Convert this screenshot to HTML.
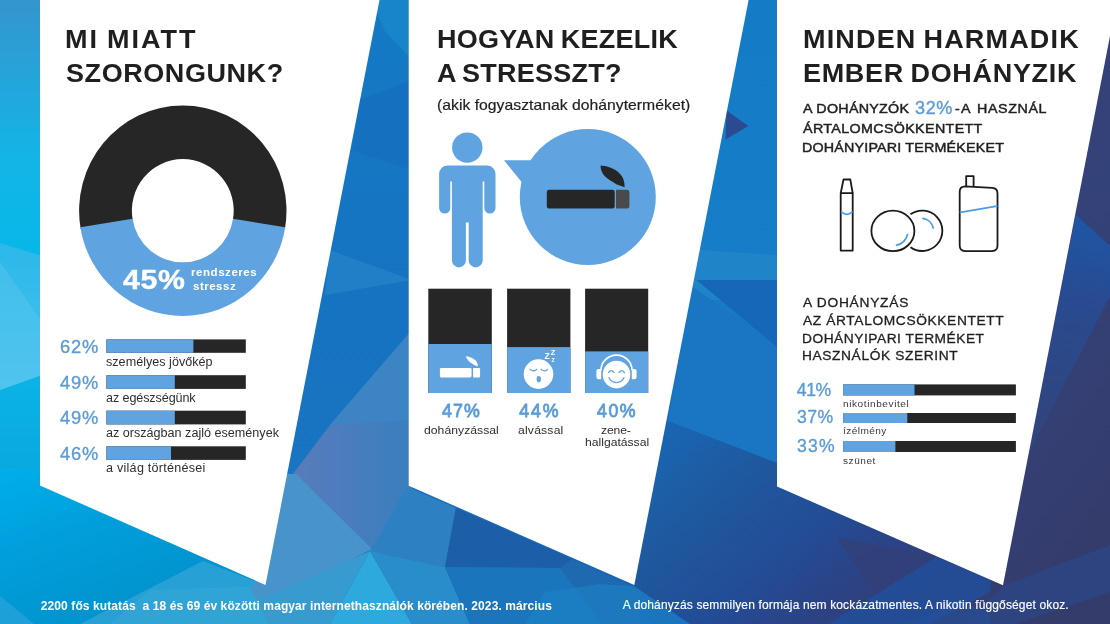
<!DOCTYPE html>
<html lang="hu"><head><meta charset="utf-8"><title>Infografika</title>
<style>
html,body{margin:0;padding:0;}
body{width:1110px;height:624px;overflow:hidden;position:relative;background:#1d6fc9;font-family:"Liberation Sans", Arial, sans-serif;}
#stage{position:absolute;left:0;top:0;width:1110px;height:624px;overflow:hidden;}
svg{position:absolute;left:0;top:0;display:block;}
.t{position:absolute;white-space:pre;line-height:1;transform-origin:0 0;font-family:"Liberation Sans", Arial, sans-serif;font-weight:400;}
</style></head><body><div id="stage">
<svg width="1110" height="624" viewBox="0 0 1110 624">
<defs>
<linearGradient id="base" x1="0" y1="0" x2="1" y2="0">
<stop offset="0" stop-color="#0ca3da"/>
<stop offset="0.20" stop-color="#2198d0"/>
<stop offset="0.30" stop-color="#1877c2"/>
<stop offset="0.45" stop-color="#1b69b5"/>
<stop offset="0.60" stop-color="#1863b5"/>
<stop offset="0.70" stop-color="#1f509d"/>
<stop offset="0.80" stop-color="#2f4381"/>
<stop offset="1" stop-color="#363e72"/>
</linearGradient>
<linearGradient id="gL" gradientUnits="userSpaceOnUse" x1="0" y1="0" x2="0" y2="624">
<stop offset="0" stop-color="#3595ce"/>
<stop offset="0.256" stop-color="#13b5e6"/>
<stop offset="0.39" stop-color="#08b7e8"/>
<stop offset="0.615" stop-color="#0bb2e6"/>
<stop offset="0.755" stop-color="#08a9de"/>
<stop offset="1" stop-color="#0c90c8"/>
</linearGradient>
<linearGradient id="gB1" gradientUnits="userSpaceOnUse" x1="0" y1="470" x2="60" y2="624">
<stop offset="0" stop-color="#00afe8"/>
<stop offset="0.5" stop-color="#009fdc"/>
<stop offset="1" stop-color="#0294cf"/>
</linearGradient>
<linearGradient id="gG1" x1="0" y1="0" x2="0" y2="1">
<stop offset="0" stop-color="#137ac4"/>
<stop offset="0.5" stop-color="#1673c1"/>
<stop offset="1" stop-color="#1b75c1"/>
</linearGradient>
<linearGradient id="gG2" gradientUnits="userSpaceOnUse" x1="0" y1="0" x2="0" y2="480">
<stop offset="0" stop-color="#147cc6"/>
<stop offset="0.6" stop-color="#167dc8"/>
<stop offset="0.85" stop-color="#196fbe"/>
<stop offset="1" stop-color="#1a65b0"/>
</linearGradient>
<linearGradient id="gR" x1="0" y1="0" x2="0.25" y2="1">
<stop offset="0" stop-color="#374176"/>
<stop offset="0.5" stop-color="#34427a"/>
<stop offset="1" stop-color="#343c6c"/>
</linearGradient>
<linearGradient id="gP" x1="0" y1="0" x2="1" y2="0">
<stop offset="0" stop-color="#5a7bbb"/>
<stop offset="1" stop-color="#387fbe"/>
</linearGradient>
<linearGradient id="gN" gradientUnits="userSpaceOnUse" x1="665" y1="440" x2="850" y2="660">
<stop offset="0" stop-color="#1a65b0"/>
<stop offset="0.3" stop-color="#1f579d"/>
<stop offset="0.55" stop-color="#224d97"/>
<stop offset="0.8" stop-color="#2c4285"/>
<stop offset="1" stop-color="#353e72"/>
</linearGradient>
<linearGradient id="gBand" gradientUnits="userSpaceOnUse" x1="1076" y1="215" x2="1050" y2="440">
<stop offset="0" stop-color="#1d57a6"/>
<stop offset="0.35" stop-color="#284b91"/>
<stop offset="1" stop-color="#32447c"/>
</linearGradient>
<linearGradient id="gLB" gradientUnits="userSpaceOnUse" x1="0" y1="245" x2="0" y2="390">
<stop offset="0" stop-color="#2cb8ea"/>
<stop offset="1" stop-color="#48c1ec"/>
</linearGradient>
</defs>
<rect width="1110" height="624" fill="url(#base)"/>
<polygon points="0,0 60,0 60,470 0,470" fill="url(#gL)"/>
<polygon points="0,243 42,256 42,375 0,390" fill="url(#gLB)"/>
<polygon points="0,262 42,322 42,375 0,390" fill="#5cc8f0" opacity="0.4"/>
<polygon points="0,468 40,468 300,560 300,624 0,624" fill="url(#gB1)"/>
<polygon points="0,596 34,624 0,624" fill="#24a3d8" opacity="0.8"/>
<polygon points="203,561 268,586 285,624 80,624" fill="#27a0d6"/>
<polygon points="150,590 268,586 285,624 110,624" fill="#46add7" opacity="0.35"/>
<polygon points="264,0 412,0 412,500 264,588" fill="url(#gG1)"/>
<polygon points="372,0 412,0 412,60 384,30" fill="#1885ca"/>
<polygon points="360,100 412,80 412,170 352,150" fill="#1569bb" opacity="0.5"/>
<polygon points="330,250 412,280 325,295" fill="#2887ca" opacity="0.6"/>
<polygon points="412,330 412,490 380,560 297,472" fill="#3885c6"/>
<polygon points="290,478 330,425 412,330 412,487 370,551" fill="url(#gP)"/>
<polygon points="330,425 412,330 412,420" fill="#3d84c4"/>
<polygon points="283,474 296,474 372,549 262,605 250,590 268,560" fill="#4893ca"/>
<polygon points="258,600 370,551 330,624 268,624" fill="#379bcf"/>
<polygon points="370,551 412,624 330,624" fill="#2da9dd"/>
<polygon points="370,551 408,487 456,508 445,567" fill="#2d80c2"/>
<polygon points="370,551 445,567 470,624 412,624" fill="#288dca"/>
<polygon points="456,508 640,590 640,624 470,624 445,567" fill="#1e69b0"/>
<polygon points="456,508 572,559 560,568 445,567" fill="#1d5ea9"/>
<polygon points="445,567 560,568 602,624 470,624" fill="#1b75bd"/>
<polygon points="545,592 600,584 634,586 690,624 525,624" fill="#1e85c6" opacity="0.55"/>
<polygon points="630,0 780,0 780,480 630,480" fill="url(#gG2)"/>
<polygon points="726.5,110.6 748.2,126 725.6,139.4" fill="#2b4a8f"/>
<polygon points="700,250 777,255 777,300 690,300" fill="#2889c8" opacity="0.6"/>
<polygon points="696.5,280 777,280 777,347" fill="#1667b7"/>
<polygon points="693,287 777,347 777,463 668,421" fill="#1a75c2"/>
<polygon points="636,421 668,421 777,463 777,487 1003,586 1110,540 1110,624 690,624 634,586" fill="url(#gN)"/>
<polygon points="836.7,537 936.4,557.3 873.6,592.4" fill="#334078" opacity="0.8"/>
<polygon points="936,557 1003,585 929,624 829,624" fill="#1f509d" opacity="0.8"/>
<polygon points="905,624 960,600 1010,624" fill="#23519d" opacity="0.6"/>
<polygon points="1000,0 1110,0 1110,624 990,624" fill="url(#gR)"/>
<polygon points="1076,215 1110,246 1110,296 1046,420 1028,456" fill="url(#gBand)"/>
<polygon points="1003,586 1110,545 1110,592 1015,624 965,624" fill="#284a91" opacity="0.55"/>
<polygon points="40,0 379.5,0 265.5,585 40,485.5" fill="#fff"/>
<polygon points="408.7,0 748.6,0 634.3,585 408.7,485.7" fill="#fff"/>
<polygon points="777,0 1117,0 1003,585.3 777,486.5" fill="#fff"/>
</svg>
<svg width="1110" height="624" viewBox="0 0 1110 624">
<g transform="translate(0 210.7) scale(1 1.015) translate(0 -210.7)">
<path d="M80.68,228.71 A103.7,103.7 0 1 1 284.92,228.71 L232.93,219.54 A50.9,50.9 0 1 0 132.67,219.54 Z" fill="#262626"/>
<path d="M285.22,226.92 A103.7,103.7 0 0 1 80.38,226.92 L132.53,218.66 A50.9,50.9 0 0 0 233.07,218.66 Z" fill="#5fa4e0"/>
</g>
<rect x="106.4" y="339.4" width="139.4" height="13.4" fill="#262626"/>
<rect x="106.4" y="339.4" width="87.0" height="13.4" fill="#5fa4e0"/>
<rect x="106.4" y="375.2" width="139.4" height="13.7" fill="#262626"/>
<rect x="106.4" y="375.2" width="68.4" height="13.7" fill="#5fa4e0"/>
<rect x="106.4" y="410.7" width="139.4" height="13.7" fill="#262626"/>
<rect x="106.4" y="410.7" width="68.4" height="13.7" fill="#5fa4e0"/>
<rect x="106.4" y="446.3" width="139.4" height="13.6" fill="#262626"/>
<rect x="106.4" y="446.3" width="64.6" height="13.6" fill="#5fa4e0"/>
<rect x="843.1" y="384.4" width="172.8" height="11.0" fill="#262626"/>
<rect x="843.1" y="384.4" width="71.4" height="11.0" fill="#5fa4e0"/>
<rect x="843.1" y="413.0" width="172.8" height="10.0" fill="#262626"/>
<rect x="843.1" y="413.0" width="64.2" height="10.0" fill="#5fa4e0"/>
<rect x="843.1" y="441.0" width="172.8" height="11.0" fill="#262626"/>
<rect x="843.1" y="441.0" width="52.3" height="11.0" fill="#5fa4e0"/>
<rect x="428.3" y="288.7" width="63.5" height="104.3" fill="#262626"/>
<rect x="428.3" y="344.0" width="63.5" height="49.0" fill="#5fa4e0"/>
<rect x="507.1" y="288.7" width="63.3" height="104.3" fill="#262626"/>
<rect x="507.1" y="347.1" width="63.3" height="45.9" fill="#5fa4e0"/>
<rect x="585.1" y="288.7" width="63.1" height="104.3" fill="#262626"/>
<rect x="585.1" y="351.4" width="63.1" height="41.6" fill="#5fa4e0"/>
<g fill="#5fa4e0">
<circle cx="467.3" cy="147.6" r="15.2"/>
<path d="M447.6,165.6 H487 A8.5,8.5 0 0 1 495.5,174.1 V208 A5.6,5.6 0 0 1 484.3,208 V181.5 H482.7 V260.4 A7,7 0 0 1 468.7,260.4 V222.6 H465.9 V260.4 A7,7 0 0 1 451.9,260.4 V181.5 H450.3 V208 A5.6,5.6 0 0 1 439.1,208 V174.1 A8.5,8.5 0 0 1 447.6,165.6 Z"/>
<circle cx="587.8" cy="197" r="68"/>
<polygon points="504,160.3 540,160.3 530,195 521.2,181.5"/>
</g>
<rect x="546.8" y="189.7" width="67.9" height="18.8" rx="2.2" fill="#262626"/>
<path d="M616,189.7 H627.2 Q629.4,189.7 629.4,191.9 V206.3 Q629.4,208.5 627.2,208.5 H616 Z" fill="#4a4a4a"/>
<path d="M600.6,165.6 C612,166.5 625.5,173 624.6,187.2 L616.2,184.3 C612.5,181 600.5,177.5 600.6,165.6 Z" fill="#262626"/>
<g fill="#fff">
<rect x="439.9" y="368" width="31.7" height="9.4" rx="1.3"/>
<path d="M473.1,368 H478.9 Q480.1,368 480.1,369.2 V376.2 Q480.1,377.4 478.9,377.4 H473.1 Z"/>
<path d="M465.9,356.3 C471.4,356.7 478.4,360.3 477.7,366.4 C474.9,365.5 467,362 465.9,356.3 Z"/>
</g>
<circle cx="538.5" cy="374.1" r="14.8" fill="#fff"/>
<g fill="none" stroke="#5fa4e0" stroke-width="1.25" stroke-linecap="round">
<path d="M530,369.1 Q533,372.6 536.6,369.5"/>
<path d="M541,369.1 Q544,372.4 547.6,369.5"/>
</g>
<ellipse cx="538.8" cy="379.2" rx="2.2" ry="3.1" fill="#5fa4e0"/>
<g fill="#fff" font-family="Liberation Sans, Arial, sans-serif" font-weight="700">
<text x="544.4" y="359.1" font-size="8.6">Z</text>
<text x="550.8" y="355.3" font-size="7.4">Z</text>
<text x="551.5" y="361.8" font-size="5.4">Z</text>
</g>
<circle cx="616.5" cy="374.6" r="13.8" fill="#fff"/>
<path d="M600.9,370.6 A15.6,15.6 0 0 1 632.1,370.6" fill="none" stroke="#fff" stroke-width="1.7"/>
<path d="M601.2,368.9 H598.6 Q596.4,368.9 596.4,371.1 V377.1 Q596.4,379.3 598.6,379.3 H601.2 Z" fill="#fff"/>
<path d="M631.8,368.9 H634.4 Q636.6,368.9 636.6,371.1 V377.1 Q636.6,379.3 634.4,379.3 H631.8 Z" fill="#fff"/>
<g fill="none" stroke="#5fa4e0" stroke-width="1.25" stroke-linecap="round">
<path d="M608.5,372.6 Q611.25,368.8 614,372.6"/>
<path d="M619,372.6 Q621.7,368.8 624.5,372.6"/>
<path d="M608.9,377.6 A8.2,8.2 0 0 0 624.0,377.6"/>
</g>
<g fill="none" stroke="#1a1a1a" stroke-width="1.8" stroke-linejoin="round">
<path d="M840.7,193.2 V250.6 H852.7 V193.2 Z"/>
<path d="M840.7,193.2 L843.5,179.5 H850.3 L852.7,193.2"/>
<ellipse cx="892.9" cy="230.9" rx="21.5" ry="20.3"/>
<path d="M910.5,214.3 A20.2,20.2 0 1 1 910.5,247.3"/>
<path d="M966.2,185.9 V176.1 H973.6 V186.6"/>
<path d="M965.2,186.3 L992.3,187.8 Q997.5,188.2 997.5,193.4 V245.6 Q997.5,251.1 992,251.1 H965.2 Q959.7,251.1 959.7,245.6 V191.8 Q959.7,186.3 965.2,186.3 Z"/>
</g>
<g fill="none" stroke="#4a9de0" stroke-width="1.7" stroke-linecap="round">
<path d="M841.6,212.1 Q846.9,216.6 852,212.1"/>
<path d="M907.5,234.5 A14.8,14.8 0 0 1 896.6,245.2"/>
<path d="M922.9,218.4 A12.3,12.3 0 0 1 933.2,228"/>
<path d="M960.4,212.4 L996.8,206.1"/>
</g>
</svg>
<span class="t" style="left:65.12px;top:27.00px;font-size:25px;letter-spacing:1.869px;color:#1f1f1f;font-weight:700;transform:scaleX(1.08);word-spacing:-1.5px;">MI MIATT</span>
<span class="t" style="left:66.20px;top:61.00px;font-size:25px;letter-spacing:0.526px;color:#1f1f1f;font-weight:700;transform:scaleX(1.08);word-spacing:-1.5px;">SZORONGUNK?</span>
<span class="t" style="left:122.92px;top:266.00px;font-size:27.5px;letter-spacing:0.597px;color:#fff;font-weight:700;-webkit-text-stroke:0.4px #fff;transform:scaleX(1.1);">45%</span>
<span class="t" style="left:190.70px;top:267.00px;font-size:11px;letter-spacing:0.501px;color:#fff;font-weight:700;transform:scaleX(1.05);">rendszeres</span>
<span class="t" style="left:192.90px;top:281.00px;font-size:11px;letter-spacing:0.455px;color:#fff;font-weight:700;transform:scaleX(1.05);">stressz</span>
<span class="t" style="left:59.88px;top:338.00px;font-size:18.3px;letter-spacing:0.908px;color:#5b9bd8;-webkit-text-stroke:0.35px #5b9bd8;">62%</span>
<span class="t" style="left:59.88px;top:374.00px;font-size:18.3px;letter-spacing:0.908px;color:#5b9bd8;-webkit-text-stroke:0.35px #5b9bd8;">49%</span>
<span class="t" style="left:59.88px;top:409.00px;font-size:18.3px;letter-spacing:0.908px;color:#5b9bd8;-webkit-text-stroke:0.35px #5b9bd8;">49%</span>
<span class="t" style="left:59.88px;top:445.00px;font-size:18.3px;letter-spacing:0.908px;color:#5b9bd8;-webkit-text-stroke:0.35px #5b9bd8;">46%</span>
<span class="t" style="left:105.90px;top:356.00px;font-size:12px;letter-spacing:0.007px;color:#2e2e2e;transform:scaleX(1.05);">személyes jövőkép</span>
<span class="t" style="left:105.90px;top:392.00px;font-size:12px;letter-spacing:-0.103px;color:#2e2e2e;transform:scaleX(1.05);">az egészségünk</span>
<span class="t" style="left:105.90px;top:427.00px;font-size:12px;letter-spacing:-0.002px;color:#2e2e2e;transform:scaleX(1.05);">az országban zajló események</span>
<span class="t" style="left:105.90px;top:462.00px;font-size:12px;letter-spacing:0.232px;color:#2e2e2e;transform:scaleX(1.05);">a világ történései</span>
<span class="t" style="left:436.72px;top:27.00px;font-size:25px;letter-spacing:0.230px;color:#1f1f1f;font-weight:700;transform:scaleX(1.08);word-spacing:-1.5px;">HOGYAN KEZELIK</span>
<span class="t" style="left:437.30px;top:61.00px;font-size:25px;letter-spacing:0.240px;color:#1f1f1f;font-weight:700;transform:scaleX(1.08);word-spacing:-1.5px;">A STRESSZT?</span>
<span class="t" style="left:436.91px;top:97.00px;font-size:15px;letter-spacing:0.008px;color:#1f1f1f;-webkit-text-stroke:0.2px #1f1f1f;transform:scaleX(1.05);">(akik fogyasztanak dohányterméket)</span>
<span class="t" style="left:442.00px;top:403.00px;font-size:17.8px;letter-spacing:1.111px;color:#5b9bd8;-webkit-text-stroke:0.8px #5b9bd8;">47%</span>
<span class="t" style="left:519.20px;top:403.00px;font-size:17.8px;letter-spacing:1.861px;color:#5b9bd8;-webkit-text-stroke:0.8px #5b9bd8;">44%</span>
<span class="t" style="left:597.10px;top:403.00px;font-size:17.8px;letter-spacing:1.461px;color:#5b9bd8;-webkit-text-stroke:0.8px #5b9bd8;">40%</span>
<span class="t" style="left:424.00px;top:424.00px;font-size:11.6px;letter-spacing:0.031px;color:#2e2e2e;transform:scaleX(1.05);">dohányzással</span>
<span class="t" style="left:517.50px;top:424.00px;font-size:11.6px;letter-spacing:0.180px;color:#2e2e2e;transform:scaleX(1.05);">alvással</span>
<span class="t" style="left:601.10px;top:424.00px;font-size:11.6px;letter-spacing:-0.142px;color:#2e2e2e;transform:scaleX(1.05);">zene-</span>
<span class="t" style="left:584.80px;top:436.00px;font-size:11.6px;letter-spacing:-0.016px;color:#2e2e2e;transform:scaleX(1.05);">hallgatással</span>
<span class="t" style="left:802.92px;top:27.00px;font-size:25px;letter-spacing:1.076px;color:#1f1f1f;font-weight:700;transform:scaleX(1.08);word-spacing:-1.5px;">MINDEN HARMADIK</span>
<span class="t" style="left:802.92px;top:61.00px;font-size:25px;letter-spacing:0.632px;color:#1f1f1f;font-weight:700;transform:scaleX(1.08);word-spacing:-1.5px;">EMBER DOHÁNYZIK</span>
<span class="t" style="left:802.75px;top:102.00px;font-size:13px;letter-spacing:0.251px;color:#1f1f1f;-webkit-text-stroke:0.45px #1f1f1f;transform:scaleX(1.1);">A DOHÁNYZÓK</span>
<span class="t" style="left:915.10px;top:99.00px;font-size:18px;letter-spacing:0.539px;color:#5b9bd8;-webkit-text-stroke:0.4px #5b9bd8;">32%</span>
<span class="t" style="left:954.95px;top:102.00px;font-size:13px;letter-spacing:1.130px;color:#1f1f1f;-webkit-text-stroke:0.45px #1f1f1f;transform:scaleX(1.1);">-A</span>
<span class="t" style="left:977.25px;top:102.00px;font-size:13px;letter-spacing:0.546px;color:#1f1f1f;-webkit-text-stroke:0.45px #1f1f1f;transform:scaleX(1.1);">HASZNÁL</span>
<span class="t" style="left:802.75px;top:122.00px;font-size:13px;letter-spacing:0.313px;color:#1f1f1f;-webkit-text-stroke:0.45px #1f1f1f;transform:scaleX(1.1);">ÁRTALOMCSÖKKENTETT</span>
<span class="t" style="left:801.65px;top:141.00px;font-size:13px;letter-spacing:0.163px;color:#1f1f1f;-webkit-text-stroke:0.45px #1f1f1f;transform:scaleX(1.1);">DOHÁNYIPARI TERMÉKEKET</span>
<span class="t" style="left:803.06px;top:297.00px;font-size:12.5px;letter-spacing:0.689px;color:#1f1f1f;-webkit-text-stroke:0.3px #1f1f1f;transform:scaleX(1.1);">A DOHÁNYZÁS</span>
<span class="t" style="left:803.06px;top:315.00px;font-size:12.5px;letter-spacing:0.567px;color:#1f1f1f;-webkit-text-stroke:0.3px #1f1f1f;transform:scaleX(1.1);">AZ ÁRTALOMCSÖKKENTETT</span>
<span class="t" style="left:801.97px;top:333.00px;font-size:12.5px;letter-spacing:0.472px;color:#1f1f1f;-webkit-text-stroke:0.3px #1f1f1f;transform:scaleX(1.1);">DOHÁNYIPARI TERMÉKET</span>
<span class="t" style="left:801.97px;top:350.00px;font-size:12.5px;letter-spacing:0.548px;color:#1f1f1f;-webkit-text-stroke:0.3px #1f1f1f;transform:scaleX(1.1);">HASZNÁLÓK SZERINT</span>
<span class="t" style="left:796.67px;top:382.00px;font-size:17.6px;letter-spacing:-0.310px;color:#5b9bd8;-webkit-text-stroke:0.35px #5b9bd8;">41%</span>
<span class="t" style="left:796.97px;top:409.00px;font-size:17.6px;letter-spacing:0.540px;color:#5b9bd8;-webkit-text-stroke:0.35px #5b9bd8;">37%</span>
<span class="t" style="left:796.97px;top:438.00px;font-size:17.6px;letter-spacing:1.290px;color:#5b9bd8;-webkit-text-stroke:0.35px #5b9bd8;">33%</span>
<span class="t" style="left:843.40px;top:399.00px;font-size:9.6px;letter-spacing:0.550px;color:#3a3a3a;transform:scaleX(1.05);">nikotinbevitel</span>
<span class="t" style="left:843.40px;top:426.00px;font-size:9.6px;letter-spacing:0.405px;color:#3a3a3a;transform:scaleX(1.05);">ízélmény</span>
<span class="t" style="left:843.40px;top:456.00px;font-size:9.6px;letter-spacing:0.508px;color:#3a3a3a;transform:scaleX(1.05);">szünet</span>
<span class="t" style="left:40.80px;top:600.00px;font-size:12px;letter-spacing:0.095px;color:#fff;font-weight:700;">2200 fős kutatás &nbsp;a 18 és 69 év közötti magyar internethasználók körében. 2023. március</span>
<span class="t" style="left:622.68px;top:599.00px;font-size:12px;letter-spacing:0.139px;color:#fff;-webkit-text-stroke:0.15px #fff;">A dohányzás semmilyen formája nem kockázatmentes. A nikotin függőséget okoz.</span>
</div></body></html>
